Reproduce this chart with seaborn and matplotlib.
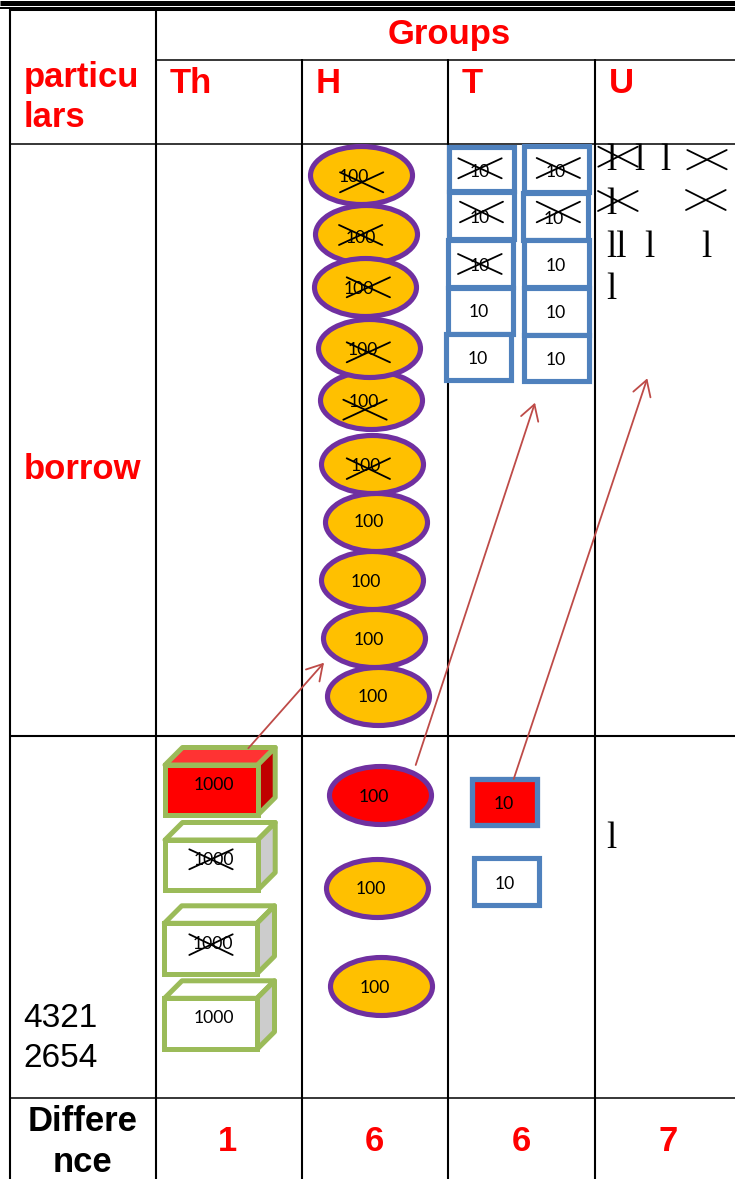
import matplotlib
matplotlib.use("Agg")
import matplotlib.pyplot as plt
import seaborn as sns
import pandas as pd
from matplotlib.path import Path
from matplotlib.patches import Rectangle, Polygon, FancyArrowPatch
from matplotlib.transforms import Affine2D

# everything is measured in reference pixels (y goes down)
RED = "#FF0000"
PURPLE = "#7030A0"
GOLD = "#FFC000"
BLUE = "#4F81BD"
GREEN = "#9BBB59"
ARROW = "#BE4B48"

# table rules
col_lines = [155.8, 302, 447.8, 595]
col_starts = [11, 59, 59, 59]
row_lines = [59.5, 143.5, 735.8, 1097.6]
row_starts = [156, 10, 10, 10]
row_widths = [1.1, 1.1, 1.5, 1.1]

# hundreds, listed in the order they stack
hundred_x = [378.3, 374, 372, 375.7, 372, 370.7, 368.7, 366, 365, 360.7]
hundred_y = [696, 638, 580, 521.8, 464.2, 400.3, 347.7, 233.8, 286.8, 174.8]
hundred_text_x = [373, 368.7, 366, 369.3, 366, 364.3, 362.7, 361, 358.7, 354]
hundred_text_y = [696, 639, 580.7, 521, 465, 400.3, 348.3, 236.7, 287.7, 176]

low_hundred_x = [377, 381]
low_hundred_y = [887.5, 986.3]
low_hundred_text_x = [371, 374.7]
low_hundred_text_y = [887.7, 987]
red_hundred_x = [380.3]
red_hundred_y = [795]
red_hundred_text = (374, 795.7)

# tens: left, right, top, bottom
ten_left = [449.3, 449, 448, 448, 446.3, 524, 523, 524, 524, 524, 474]
ten_right = [514, 513.7, 512.7, 512.7, 511, 588.7, 587.7, 588.7, 588.7, 588.7, 538.7]
ten_top = [146.5, 192, 240, 288, 334, 146.3, 193, 240.3, 288, 335.3, 858.3]
ten_bottom = [191, 238.7, 287, 333.7, 380.3, 192, 240.3, 287, 335.3, 381.3, 905]
ten_text_x = [480, 480, 479.3, 479, 477.3, 555.7, 554, 555.7, 555.7, 555.7, 504.7]
ten_text_y = [171, 216.7, 265, 310.7, 358, 171, 217.7, 265, 311.7, 359, 882.7]
red_ten = (472.5, 537.2, 778.5, 825.2)
red_ten_text = (503.3, 802.7)

# thousands
cube_left = [165, 165, 164.3, 164.5]
cube_right = [257.7, 257.7, 257, 257]
cube_top = [765, 840, 923.3, 998.3]
cube_bottom = [815, 890, 973.7, 1049.3]
cube_text_x = [214.3, 214.3, 213.3, 214.3]
cube_text_y = [784, 859, 942.3, 1016.7]
cube_front = [RED, "white", "white", "white"]
cube_roof = ["#FF3333", "white", "white", "white"]
cube_side = ["#C00000", "#CCCCCC", "#CCCCCC", "#CCCCCC"]

# crossed out marks: x0, x1, y0, y1
crosses = [
    (340, 383.3, 172.3, 192.3), (339, 382.3, 225, 245), (346.7, 390, 277.3, 297.3),
    (346.7, 390, 342.3, 362.3), (343.3, 386.7, 399.7, 419.7), (346.7, 390, 458.3, 479),
    (458.3, 501.7, 158.3, 178.3), (460, 503, 201.7, 222.3), (458, 501.7, 254, 274),
    (536.7, 580, 158, 178), (536.7, 580, 201.7, 222.3),
    (598.3, 637.7, 146.7, 166.7), (687.3, 726.7, 150, 169.3),
    (598, 637.7, 191, 211), (686, 725.7, 190, 210),
    (189.3, 232.7, 849.3, 869.3), (189.3, 232.7, 934.3, 955),
]

# units, written as the serif strokes seen in the picture
unit_x = [611.7, 639, 665, 611.7, 616.7, 649, 706.7, 611.7, 611.7]
unit_y = [158, 158, 158, 201.7, 244.7, 244.7, 244.7, 286.7, 835.7]
unit_text = ["l", "l", "l", "l", "ll", "l", "l", "l", "l"]

# borrow arrows: start and tip
arrows = [
    ((248.3, 748.3), (324, 662.7)),
    ((415.7, 765), (535, 402.7)),
    ((513.7, 779), (647.3, 378.3)),
]

# header texts: text, x, baseline, colour, anchor
left_labels = [
    ("particu", 24, 87.3, RED, "left"), ("lars", 24, 126.7, RED, "left"),
    ("borrow", 24, 479, RED, "left"), ("Groups", 387.3, 44, RED, "left"),
    ("Th", 169.3, 93, RED, "left"), ("H", 316, 93, RED, "left"),
    ("T", 462, 93, RED, "left"), ("U", 609, 93, RED, "left"),
    ("Differe", 83, 1130.7, "black", "center"), ("nce", 82.5, 1171.7, "black", "center"),
    ("1", 228, 1151, RED, "center"), ("6", 374.5, 1151, RED, "center"),
    ("6", 521, 1151, RED, "center"), ("7", 668, 1151, RED, "center"),
]
sum_labels = [("4321", 23, 1026.7), ("2654", 23, 1066.7)]

sns.set_theme(style="white")
fig = plt.figure(figsize=(7.35, 11.79), dpi=100)
ax = fig.add_axes([0, 0, 1, 1])
ax.set_xlim(0, 735)
ax.set_ylim(1179, 0)
ax.axis("off")

# double rule at the top
ax.hlines(2.5, 0, 735, color="black", lw=3.6, capstyle="butt")
ax.hlines(9, 9, 735, color="black", lw=2.9, capstyle="butt")
ax.hlines(7.7, 0, 10, color="black", lw=1.4, capstyle="butt")

for x, start in zip(col_lines, col_starts):
    ax.vlines(x, start, 1179, color="black", lw=1.5, capstyle="butt")
ax.vlines(10.5, 7, 1179, color="black", lw=1.5, capstyle="butt")
for y, start, w in zip(row_lines, row_starts, row_widths):
    ax.hlines(y, start, 735, color="black", lw=w, capstyle="butt")

# ellipse marker, 102 wide by 58 high in pixels
oval = Path.unit_circle().transformed(Affine2D().scale(1, 58 / 102))
oval_size = (102 * 0.72) ** 2


def ovals(xs, ys, fill):
    df = pd.DataFrame({"x": xs, "y": ys})
    sns.scatterplot(data=df, x="x", y="y", marker=oval, s=oval_size, color=fill,
                    edgecolor=PURPLE, linewidth=3.7, ax=ax, zorder=3, legend=False)


ovals(hundred_x, hundred_y, GOLD)
ovals(low_hundred_x, low_hundred_y, GOLD)
ovals(red_hundred_x, red_hundred_y, RED)
ax.set_xlim(0, 735)
ax.set_ylim(1179, 0)
ax.axis("off")


def small(x, y, s):
    ax.text(x, y + 6.3, s, family="Lato", fontsize=12.6, color="black",
            ha="center", va="baseline", zorder=6)


for x, y in zip(hundred_text_x, hundred_text_y):
    small(x, y, "100")
for x, y in zip(low_hundred_text_x, low_hundred_text_y):
    small(x, y, "100")
small(*red_hundred_text, "100")

for l, r, t, b in zip(ten_left, ten_right, ten_top, ten_bottom):
    ax.add_patch(Rectangle((l, t), r - l, b - t, facecolor="white", edgecolor=BLUE,
                           lw=3.7, joinstyle="miter", zorder=3))
l, r, t, b = red_ten
ax.add_patch(Rectangle((l, t), r - l, b - t, facecolor=RED, edgecolor=BLUE,
                       lw=3.8, joinstyle="miter", zorder=3))
for x, y in zip(ten_text_x, ten_text_y):
    small(x, y, "10")
small(*red_ten_text, "10")

depth = 17.5
for i in range(len(cube_left)):
    l, r, t, b = cube_left[i], cube_right[i], cube_top[i], cube_bottom[i]
    style = dict(edgecolor=GREEN, lw=3.6, zorder=3)
    ax.add_patch(Polygon([(l, t), (l + depth, t - depth), (r + depth, t - depth), (r, t)],
                         facecolor=cube_roof[i], joinstyle="round", **style))
    ax.add_patch(Polygon([(r, t), (r + depth, t - depth), (r + depth, b - depth), (r, b)],
                         facecolor=cube_side[i], joinstyle="round", **style))
    ax.add_patch(Rectangle((l, t), r - l, b - t, facecolor=cube_front[i],
                           joinstyle="miter", **style))
    small(cube_text_x[i], cube_text_y[i], "1000")

for x0, x1, y0, y1 in crosses:
    ax.plot([x0, x1], [y0, y1], color="black", lw=1.3, zorder=7)
    ax.plot([x0, x1], [y1, y0], color="black", lw=1.3, zorder=7)

for x, y, s in zip(unit_x, unit_y, unit_text):
    ax.text(x, y + 12.5, s, family="Liberation Serif", fontsize=26.5, color="black",
            ha="center", va="baseline", zorder=5)

for start, tip in arrows:
    ax.add_patch(FancyArrowPatch(start, tip, arrowstyle="->,head_length=11,head_width=6.5",
                                 mutation_scale=1, color=ARROW, lw=1.3,
                                 shrinkA=0, shrinkB=0, zorder=8))

for s, x, y, c, anchor in left_labels:
    ax.text(x, y, s, family="Liberation Sans", fontweight="bold", fontsize=24.9,
            color=c, ha=anchor, va="baseline", zorder=5)
for s, x, y in sum_labels:
    ax.text(x, y, s, family="Liberation Sans", fontsize=24, color="black",
            ha="left", va="baseline", zorder=5)

fig.savefig("out.png", dpi=100)
